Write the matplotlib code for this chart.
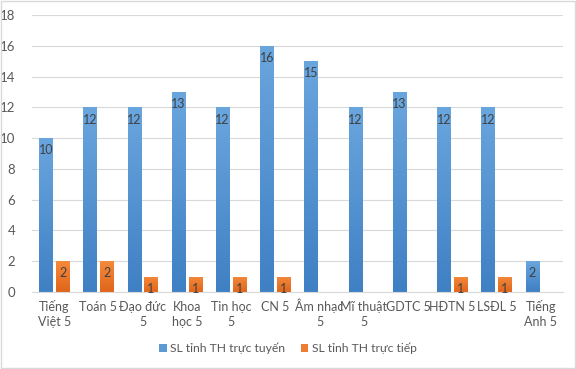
import matplotlib
matplotlib.use("Agg")
import matplotlib.pyplot as plt
import matplotlib.transforms as mtransforms
import numpy as np
from matplotlib.colors import LinearSegmentedColormap
from matplotlib.patches import Rectangle

categories = ["Tiếng\nViệt 5", "Toán 5", "Đạo đức\n5", "Khoa\nhọc 5", "Tin học\n5", "CN 5",
              "Âm nhạc\n5", "Mĩ thuật\n5", "GDTC 5", "HĐTN 5", "LSĐL 5", "Tiếng\nAnh 5"]
online = [10, 12, 12, 13, 12, 16, 15, 12, 13, 12, 12, 2]
direct = [2, 2, 1, 1, 1, 1, 0, 0, 0, 1, 1, 0]
series_names = ["SL tỉnh TH trực tuyến", "SL tỉnh TH trực tiếp"]
yticks = [0, 2, 4, 6, 8, 10, 12, 14, 16, 18]

plt.rcParams['font.family'] = ['Lato', 'DejaVu Sans']
fig = plt.figure(figsize=(5.76, 3.69), dpi=100)
ax = fig.add_axes([0.0556, 0.2087, 0.9214, 0.7503])

x = np.arange(len(categories))
w = 0.30
off = 0.19
blue = "#5B9BD5"
orange = "#ED7D31"
blue_cmap = LinearSegmentedColormap.from_list("b", ["#3F80C4", "#6AA6DE"])
orange_cmap = LinearSegmentedColormap.from_list("o", ["#E0651A", "#F48A3C"])

b1 = ax.bar(x - off, online, w, color=blue, label=series_names[0], zorder=2)
b2 = ax.bar(x + off, direct, w, color=orange, label=series_names[1], zorder=2)

grad = np.linspace(0, 1, 256).reshape(-1, 1)
for bars, cmap in ((b1, blue_cmap), (b2, orange_cmap)):
    for r in bars:
        h = r.get_height()
        if h <= 0:
            continue
        x0 = r.get_x()
        im = ax.imshow(grad, cmap=cmap, aspect='auto', origin='lower',
                       extent=[x0, x0 + r.get_width(), 0, h], zorder=2.5)
        im.set_clip_path(r)

for bars, vals in ((b1, online), (b2, direct)):
    for r, v in zip(bars, vals):
        if v > 0:
            ax.text(r.get_x() + r.get_width() / 2, v - 0.4, str(v), ha='center', va='top',
                    fontsize=9, color='#404040', zorder=4)

ax.set_xlim(-0.5, len(categories) - 0.5)
ax.set_ylim(0, 18)
ax.set_yticks(yticks)
ax.set_xticks(x)
ax.set_xticklabels([])
base = ax.get_xaxis_transform()
for xi, lab in zip(x, categories):
    for li, line in enumerate(lab.split("\n")):
        tr = mtransforms.offset_copy(base, fig=fig, x=0, y=-(19 + 15 * li), units='dots')
        ax.text(xi, 0, line, transform=tr, ha='center', va='baseline',
                fontsize=9, color='#595959', clip_on=False)
ax.tick_params(axis='y', labelsize=9.5, colors='#595959', length=0, pad=12)
ax.tick_params(axis='x', length=0)
ax.grid(axis='y', color='#D9D9D9', linewidth=0.8, zorder=0)
ax.set_axisbelow(True)
for s in ['top', 'right', 'left']:
    ax.spines[s].set_visible(False)
ax.spines['bottom'].set_color('#D9D9D9')

leg = fig.legend(handles=[b1, b2], labels=series_names, loc='center', bbox_to_anchor=(0.5, 0.055),
                 ncol=2, frameon=False, fontsize=8.7, handlelength=0.6, handleheight=0.6,
                 columnspacing=1.3, handletextpad=0.3)
for t in leg.get_texts():
    t.set_color('#595959')

fig.patches.append(Rectangle((0.002, 0.003), 0.996, 0.994, transform=fig.transFigure,
                             fill=False, edgecolor='#D9D9D9', linewidth=1))
fig.savefig("out.png", dpi=100)
